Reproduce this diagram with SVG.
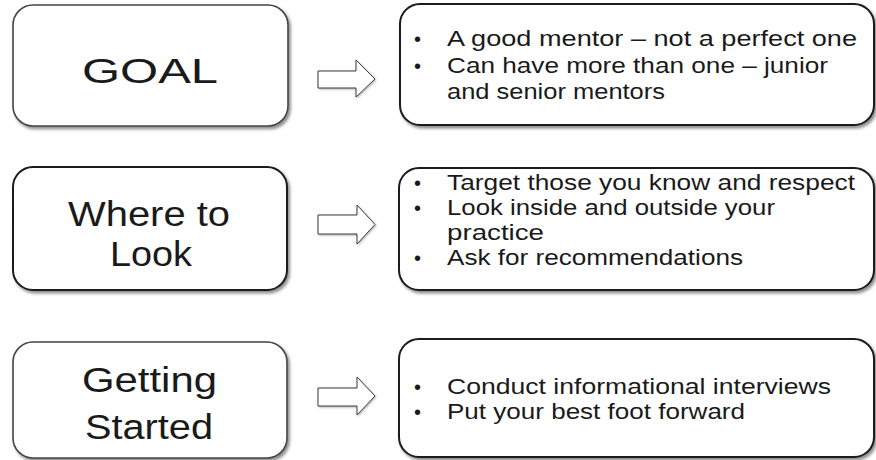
<svg xmlns="http://www.w3.org/2000/svg" width="876" height="460" viewBox="0 0 876 460">
<style>
.box{fill:#fff;stroke:#1a1a1a;stroke-width:2;filter:url(#sh)}
.box.light{stroke:#444;stroke-width:1.6}
.title{font-family:"Liberation Sans",Arial,sans-serif;font-size:35.5px;fill:#1a1a1a}
.item{font-family:"Liberation Sans",Arial,sans-serif;font-size:22px;fill:#1a1a1a}
.b{font-size:20px}
.arrow{fill:#fff;stroke:#3a3a3a;stroke-width:1;filter:url(#sh2)}
</style>
<defs>
<filter id="sh" x="-10%" y="-10%" width="120%" height="130%">
<feDropShadow dx="2" dy="2.5" stdDeviation="1.8" flood-color="#000" flood-opacity="0.45"/>
</filter>
<filter id="sh2" x="-10%" y="-10%" width="130%" height="130%">
<feDropShadow dx="1" dy="1" stdDeviation="0.8" flood-color="#000" flood-opacity="0.3"/>
</filter>
</defs>
<rect width="876" height="460" fill="#fff"/>

<g id="goal">
<rect class="box light" x="13" y="5" width="275" height="121" rx="20"/>
<text class="title" x="82" y="83" font-size="45" textLength="136" lengthAdjust="spacingAndGlyphs">GOAL</text>
</g>
<g id="goal-details">
<rect class="box" x="400" y="4" width="474" height="121" rx="20"/>
<text class="item"><tspan class="b" x="414" y="46">•</tspan><tspan x="447" y="46" textLength="410" lengthAdjust="spacingAndGlyphs">A good mentor – not a perfect one</tspan><tspan class="b" x="414" y="72.5">•</tspan><tspan x="447" y="72.5" textLength="381" lengthAdjust="spacingAndGlyphs">Can have more than one – junior</tspan><tspan x="447" y="99" textLength="218" lengthAdjust="spacingAndGlyphs">and senior mentors</tspan></text>
</g>

<g id="where">
<rect class="box" x="13" y="167" width="274" height="123" rx="20"/>
<text class="title"><tspan x="68" y="226" textLength="162" lengthAdjust="spacingAndGlyphs">Where to</tspan><tspan x="110" y="266" textLength="82" lengthAdjust="spacingAndGlyphs">Look</tspan></text>
</g>
<g id="where-details">
<rect class="box" x="399" y="168" width="475" height="122" rx="20"/>
<text class="item"><tspan class="b" x="414" y="190">•</tspan><tspan x="447" y="190" textLength="408" lengthAdjust="spacingAndGlyphs">Target those you know and respect</tspan><tspan class="b" x="414" y="215">•</tspan><tspan x="447" y="215" textLength="328" lengthAdjust="spacingAndGlyphs">Look inside and outside your</tspan><tspan x="447" y="240" textLength="97" lengthAdjust="spacingAndGlyphs">practice</tspan><tspan class="b" x="414" y="265">•</tspan><tspan x="447" y="265" textLength="296" lengthAdjust="spacingAndGlyphs">Ask for recommendations</tspan></text>
</g>

<g id="started">
<rect class="box light" x="13" y="342" width="274" height="116" rx="20"/>
<text class="title"><tspan x="82" y="392" textLength="135" lengthAdjust="spacingAndGlyphs">Getting</tspan><tspan x="85" y="439" textLength="128" lengthAdjust="spacingAndGlyphs">Started</tspan></text>
</g>
<g id="started-details">
<rect class="box" x="399" y="339" width="475" height="118" rx="20"/>
<text class="item"><tspan class="b" x="414" y="394">•</tspan><tspan x="447" y="394" textLength="384" lengthAdjust="spacingAndGlyphs">Conduct informational interviews</tspan><tspan class="b" x="414" y="419">•</tspan><tspan x="447" y="419" textLength="298" lengthAdjust="spacingAndGlyphs">Put your best foot forward</tspan></text>
</g>

<g id="connectors">
<polygon class="arrow" points="318,71 356,71 356,60 375,79 356,97 356,88 318,88"/>
<polygon class="arrow" points="318,215 357,215 357,205 375,224.5 357,244 357,234 318,234"/>
<polygon class="arrow" points="318,388 357,388 357,377 375,396 357,415 357,406 318,406"/>
</g>
</svg>
